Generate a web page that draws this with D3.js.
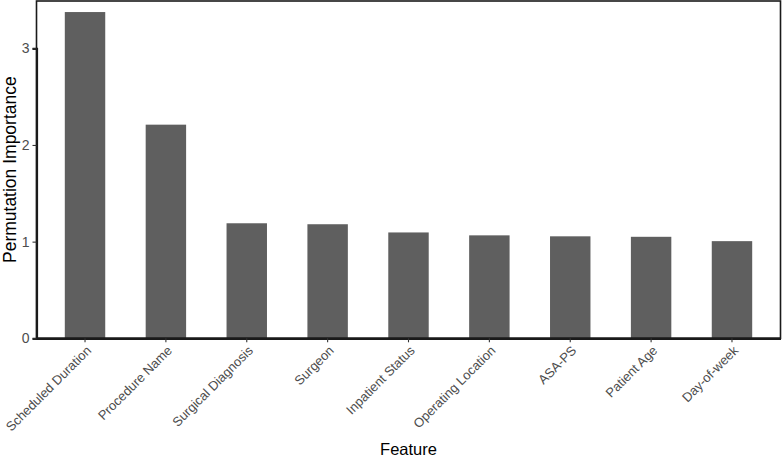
<!DOCTYPE html>
<html><head><meta charset="utf-8">
<script src="https://cdn.jsdelivr.net/npm/d3@7"></script>
<style>html,body{margin:0;padding:0;background:#fff}</style>
</head><body>
<script>
const features = ["Scheduled Duration","Procedure Name","Surgical Diagnosis","Surgeon","Inpatient Status","Operating Location","ASA-PS","Patient Age","Day-of-week"];
const importance = [3.375, 2.21, 1.19, 1.18, 1.095, 1.065, 1.055, 1.05, 1.005];
const yTicks = [0, 1, 2, 3];

(function () {
const W = 782, H = 459;
const pL = 36.5, pR = 780.5, pT = 1, pB = 338.3;
const svg = d3.select("body").append("svg").attr("width", W).attr("height", H);
const font = "'Liberation Sans', Arial, Helvetica, sans-serif";

const x = d3.scaleBand().domain(features).range([pL, pR]).paddingInner(0.5).paddingOuter(0.35);
const unit = (pB - 48.3) / 3;
const y = d3.scaleLinear().domain([0, 3]).range([pB, pB - 3 * unit]);

svg.append("g").selectAll("rect").data(features).join("rect")
  .attr("x", d => x(d)).attr("width", x.bandwidth())
  .attr("y", (d, i) => y(importance[i]))
  .attr("height", (d, i) => y(0) - y(importance[i]))
  .attr("fill", "#5f5f5f");

svg.append("rect").attr("x", pL).attr("y", pT).attr("width", pR - pL).attr("height", pB - pT)
  .attr("fill", "none").attr("stroke", "#1a1a1a").attr("stroke-width", 1.6);

const ya = svg.append("g").attr("transform", `translate(${pL},0)`)
  .call(d3.axisLeft(y).tickValues(yTicks).tickFormat(d3.format("d")).tickSize(4).tickPadding(3));
ya.select(".domain").attr("stroke", "#1a1a1a").attr("stroke-width", 2.2);
ya.selectAll(".tick line").attr("stroke", "#333").attr("stroke-width", 1.1);
ya.selectAll(".tick text").attr("fill", "#4d4d4d").style("font-family", font).style("font-size", "14px");

const xa = svg.append("g").attr("transform", `translate(0,${pB})`)
  .call(d3.axisBottom(x).tickSize(4).tickSizeOuter(0));
xa.select(".domain").attr("stroke", "#1a1a1a").attr("stroke-width", 2.4);
xa.selectAll(".tick line").attr("stroke", "#333").attr("stroke-width", 1.1);
xa.selectAll(".tick text")
  .attr("fill", "#4d4d4d").style("font-family", font).style("font-size", "13px")
  .attr("text-anchor", "end").attr("dy", null).attr("y", 0)
  .attr("transform", "translate(7,13) rotate(-45)");

svg.append("text").attr("x", (pL + pR) / 2).attr("y", 455)
  .attr("text-anchor", "middle").style("font-family", font).style("font-size", "16.5px").attr("fill", "#000")
  .text("Feature");
svg.append("text").attr("transform", `translate(16,${(pT + pB) / 2}) rotate(-90)`)
  .attr("text-anchor", "middle").style("font-family", font).style("font-size", "17.5px").attr("fill", "#000")
  .text("Permutation Importance");
})();
</script>
</body></html>
